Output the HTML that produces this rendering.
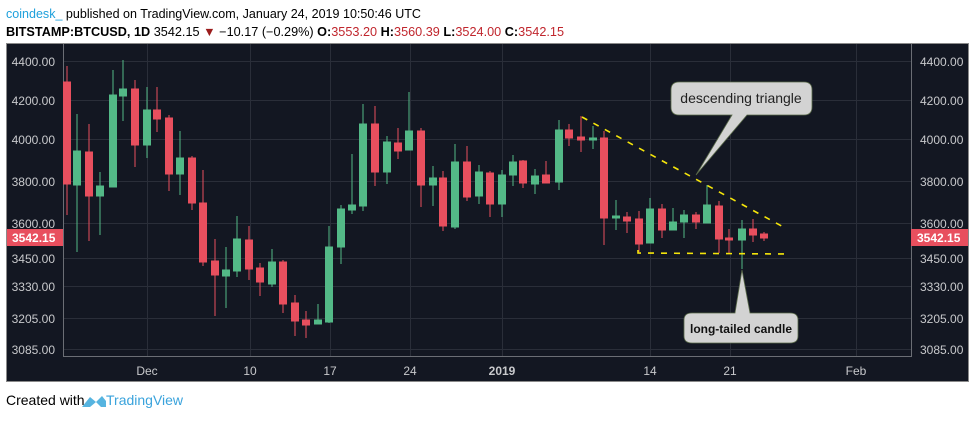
<!DOCTYPE html>
<html><head><meta charset="utf-8"><style>
body{margin:0;background:#fff;width:975px;height:418px;overflow:hidden;font-family:"Liberation Sans",sans-serif}
</style></head><body>
<svg width="975" height="418" xmlns="http://www.w3.org/2000/svg" font-family="Liberation Sans, sans-serif">
<rect width="975" height="418" fill="#fff"/>
<text x="6" y="18" font-size="13" fill="#1ea0dc" textLength="415" lengthAdjust="spacingAndGlyphs">coindesk_<tspan fill="#000"> published on TradingView.com, January 24, 2019 10:50:46 UTC</tspan></text>
<text x="6" y="36" font-size="12.5" fill="#000" textLength="558" lengthAdjust="spacingAndGlyphs"><tspan font-weight="bold">BITSTAMP:BTCUSD, 1D</tspan> 3542.15 <tspan fill="#9b1c1c">▼</tspan> −10.17 (−0.29%) <tspan font-weight="bold">O:</tspan><tspan fill="#c0262d">3553.20</tspan> <tspan font-weight="bold">H:</tspan><tspan fill="#c0262d">3560.39</tspan> <tspan font-weight="bold">L:</tspan><tspan fill="#c0262d">3524.00</tspan> <tspan font-weight="bold">C:</tspan><tspan fill="#c0262d">3542.15</tspan></text>
<rect x="6.5" y="43.5" width="962" height="338" fill="#131722" stroke="#8a8a8a"/>
<g stroke="#2a2e39" stroke-width="1">
<line x1="63" x2="911" y1="61.5" y2="61.5"/><line x1="63" x2="911" y1="100.5" y2="100.5"/><line x1="63" x2="911" y1="139.5" y2="139.5"/><line x1="63" x2="911" y1="181.5" y2="181.5"/><line x1="63" x2="911" y1="223.5" y2="223.5"/><line x1="63" x2="911" y1="258.5" y2="258.5"/><line x1="63" x2="911" y1="286.5" y2="286.5"/><line x1="63" x2="911" y1="318.5" y2="318.5"/><line x1="63" x2="911" y1="349.5" y2="349.5"/>
<line x1="147.5" x2="147.5" y1="44" y2="357"/><line x1="250.5" x2="250.5" y1="44" y2="357"/><line x1="330.5" x2="330.5" y1="44" y2="357"/><line x1="410.5" x2="410.5" y1="44" y2="357"/><line x1="502.5" x2="502.5" y1="44" y2="357"/><line x1="650.5" x2="650.5" y1="44" y2="357"/><line x1="730.5" x2="730.5" y1="44" y2="357"/><line x1="856.5" x2="856.5" y1="44" y2="357"/>
</g>
<g stroke="#6b6e75"><line x1="63.5" x2="63.5" y1="44" y2="357"/><line x1="911.5" x2="911.5" y1="44" y2="357"/><line x1="63" x2="911" y1="356.5" y2="356.5"/></g>
<g font-size="12" fill="#c8c9cc">
<g text-anchor="end"><text x="55" y="66">4400.00</text><text x="55" y="105">4200.00</text><text x="55" y="144">4000.00</text><text x="55" y="186">3800.00</text><text x="55" y="228">3600.00</text><text x="55" y="263">3450.00</text><text x="55" y="291">3330.00</text><text x="55" y="323">3205.00</text><text x="55" y="354">3085.00</text></g>
<text x="920" y="66">4400.00</text><text x="920" y="105">4200.00</text><text x="920" y="144">4000.00</text><text x="920" y="186">3800.00</text><text x="920" y="228">3600.00</text><text x="920" y="263">3450.00</text><text x="920" y="291">3330.00</text><text x="920" y="323">3205.00</text><text x="920" y="354">3085.00</text>
<g text-anchor="middle"><text x="147" y="375">Dec</text><text x="250" y="375">10</text><text x="330" y="375">17</text><text x="410" y="375">24</text><text x="502" y="375" font-weight="bold">2019</text><text x="650" y="375">14</text><text x="730" y="375">21</text><text x="856" y="375">Feb</text></g>
</g>
<rect x="7" y="229" width="56" height="17" fill="#e84f5e"/><text x="12" y="242" font-size="12" fill="#fff" font-weight="bold">3542.15</text>
<rect x="911" y="229" width="57" height="17" fill="#e84f5e"/><text x="917" y="242" font-size="12" fill="#fff" font-weight="bold">3542.15</text>
<g stroke="#e84f5e" fill="#e84f5e">
<line x1="67" x2="67" y1="66" y2="215"/><rect x="63.5" y="82" width="7" height="102"/>
<line x1="89" x2="89" y1="124" y2="241"/><rect x="85.5" y="152" width="7" height="44"/>
<line x1="135" x2="135" y1="80" y2="167"/><rect x="131.5" y="89" width="7" height="56"/>
<line x1="157" x2="157" y1="87" y2="132"/><rect x="153.5" y="110" width="7" height="9"/>
<line x1="169" x2="169" y1="115" y2="191"/><rect x="165.5" y="118" width="7" height="56"/>
<line x1="192" x2="192" y1="156" y2="210"/><rect x="188.5" y="158" width="7" height="45"/>
<line x1="203" x2="203" y1="170" y2="266"/><rect x="199.5" y="203" width="7" height="59"/>
<line x1="215" x2="215" y1="239" y2="316"/><rect x="211.5" y="261" width="7" height="14"/>
<line x1="249" x2="249" y1="226" y2="280"/><rect x="245.5" y="240" width="7" height="29"/>
<line x1="260" x2="260" y1="263" y2="296"/><rect x="256.5" y="268" width="7" height="14"/>
<line x1="283" x2="283" y1="260" y2="313"/><rect x="279.5" y="262" width="7" height="42"/>
<line x1="295" x2="295" y1="295" y2="336"/><rect x="291.5" y="303" width="7" height="18"/>
<line x1="306" x2="306" y1="311" y2="338"/><rect x="302.5" y="320" width="7" height="5"/>
<line x1="375" x2="375" y1="106" y2="186"/><rect x="371.5" y="124" width="7" height="48"/>
<line x1="398" x2="398" y1="128" y2="159"/><rect x="394.5" y="143" width="7" height="8"/>
<line x1="421" x2="421" y1="128" y2="207"/><rect x="417.5" y="131" width="7" height="54"/>
<line x1="443" x2="443" y1="171" y2="231"/><rect x="439.5" y="178" width="7" height="48"/>
<line x1="467" x2="467" y1="146" y2="201"/><rect x="463.5" y="162" width="7" height="35"/>
<line x1="490" x2="490" y1="171" y2="217"/><rect x="486.5" y="173" width="7" height="31"/>
<line x1="523" x2="523" y1="160" y2="188"/><rect x="519.5" y="161" width="7" height="22"/>
<line x1="546" x2="546" y1="161" y2="183"/><rect x="542.5" y="175" width="7" height="8"/>
<line x1="569" x2="569" y1="124" y2="146"/><rect x="565.5" y="130" width="7" height="8"/>
<line x1="581" x2="581" y1="116" y2="152"/><rect x="577.5" y="137" width="7" height="3"/>
<line x1="604" x2="604" y1="131" y2="245"/><rect x="600.5" y="138" width="7" height="80"/>
<line x1="627" x2="627" y1="212" y2="233"/><rect x="623.5" y="217" width="7" height="4"/>
<line x1="639" x2="639" y1="211" y2="252"/><rect x="635.5" y="219" width="7" height="25"/>
<line x1="662" x2="662" y1="204" y2="238"/><rect x="658.5" y="209" width="7" height="21"/>
<line x1="696" x2="696" y1="212" y2="229"/><rect x="692.5" y="215" width="7" height="7"/>
<line x1="719" x2="719" y1="201" y2="253"/><rect x="715.5" y="206" width="7" height="33"/>
<line x1="729" x2="729" y1="229" y2="253"/><rect x="725.5" y="238" width="7" height="2"/>
<line x1="753" x2="753" y1="219" y2="242"/><rect x="749.5" y="229" width="7" height="6"/>
<line x1="764" x2="764" y1="232" y2="241"/><rect x="760.5" y="234" width="7" height="4"/>
</g>
<g stroke="#53b987" fill="#53b987">
<line x1="77" x2="77" y1="114" y2="252"/><rect x="73.5" y="151" width="7" height="34"/>
<line x1="100" x2="100" y1="172" y2="235"/><rect x="96.5" y="186" width="7" height="10"/>
<line x1="113" x2="113" y1="70" y2="187"/><rect x="109.5" y="95" width="7" height="92"/>
<line x1="123" x2="123" y1="60" y2="121"/><rect x="119.5" y="89" width="7" height="7"/>
<line x1="147" x2="147" y1="87" y2="158"/><rect x="143.5" y="110" width="7" height="35"/>
<line x1="180" x2="180" y1="131" y2="195"/><rect x="176.5" y="158" width="7" height="16"/>
<line x1="226" x2="226" y1="247" y2="308"/><rect x="222.5" y="270" width="7" height="6"/>
<line x1="237" x2="237" y1="216" y2="277"/><rect x="233.5" y="239" width="7" height="32"/>
<line x1="272" x2="272" y1="249" y2="287"/><rect x="268.5" y="262" width="7" height="22"/>
<line x1="318" x2="318" y1="304" y2="324"/><rect x="314.5" y="320" width="7" height="4"/>
<line x1="329" x2="329" y1="226" y2="323"/><rect x="325.5" y="247" width="7" height="75"/>
<line x1="341" x2="341" y1="205" y2="264"/><rect x="337.5" y="209" width="7" height="38"/>
<line x1="352" x2="352" y1="154" y2="214"/><rect x="348.5" y="205" width="7" height="5"/>
<line x1="363" x2="363" y1="104" y2="211"/><rect x="359.5" y="124" width="7" height="82"/>
<line x1="387" x2="387" y1="136" y2="184"/><rect x="383.5" y="142" width="7" height="30"/>
<line x1="409" x2="409" y1="92" y2="150"/><rect x="405.5" y="131" width="7" height="19"/>
<line x1="433" x2="433" y1="166" y2="206"/><rect x="429.5" y="178" width="7" height="7"/>
<line x1="455" x2="455" y1="144" y2="229"/><rect x="451.5" y="162" width="7" height="65"/>
<line x1="479" x2="479" y1="165" y2="204"/><rect x="475.5" y="172" width="7" height="24"/>
<line x1="502" x2="502" y1="170" y2="217"/><rect x="498.5" y="175" width="7" height="29"/>
<line x1="513" x2="513" y1="155" y2="186"/><rect x="509.5" y="162" width="7" height="13"/>
<line x1="535" x2="535" y1="169" y2="194"/><rect x="531.5" y="176" width="7" height="8"/>
<line x1="559" x2="559" y1="120" y2="190"/><rect x="555.5" y="130" width="7" height="52"/>
<line x1="593" x2="593" y1="126" y2="149"/><rect x="589.5" y="138" width="7" height="2"/>
<line x1="616" x2="616" y1="200" y2="230"/><rect x="612.5" y="216" width="7" height="2"/>
<line x1="650" x2="650" y1="198" y2="243"/><rect x="646.5" y="209" width="7" height="34"/>
<line x1="673" x2="673" y1="208" y2="230"/><rect x="669.5" y="222" width="7" height="8"/>
<line x1="684" x2="684" y1="210" y2="238"/><rect x="680.5" y="215" width="7" height="7"/>
<line x1="707" x2="707" y1="185" y2="223"/><rect x="703.5" y="205" width="7" height="18"/>
<line x1="742" x2="742" y1="220" y2="269"/><rect x="738.5" y="229" width="7" height="11"/>
</g>
<g stroke="#f5e50a" stroke-width="1.6" stroke-dasharray="6,7" fill="none">
<line x1="582" y1="117" x2="787" y2="229"/>
<polyline points="638,250 638,253 787,254"/>
</g>
<g fill="#d3d3d3" stroke="#5a6a4a" stroke-width="0.8">
<path d="M679,82 H804 Q812,82 812,90 V107 Q812,115 804,115 H747 L696,175 L732,115 H679 Q671,115 671,107 V90 Q671,82 679,82 Z"/>
<path d="M692,313 H735 L742,270 L750,313 H790 Q798,313 798,320 V336 Q798,343 790,343 H692 Q684,343 684,336 V320 Q684,313 692,313 Z"/>
</g>
<text x="741" y="103" font-size="14" fill="#222" text-anchor="middle">descending triangle</text>
<text x="741" y="333" font-size="12" fill="#111" font-weight="bold" text-anchor="middle">long-tailed candle</text>
<text x="6" y="405" font-size="14" fill="#000">Created with</text>
<path d="M82,407 L90,397 L96,402 L102,396 L106,401 L106,407 L101,407 L96,402 L90,407 Z" fill="#56b4e0"/>
<text x="106" y="405" font-size="14" fill="#3aa3dc">TradingView</text>
</svg>
</body></html>
